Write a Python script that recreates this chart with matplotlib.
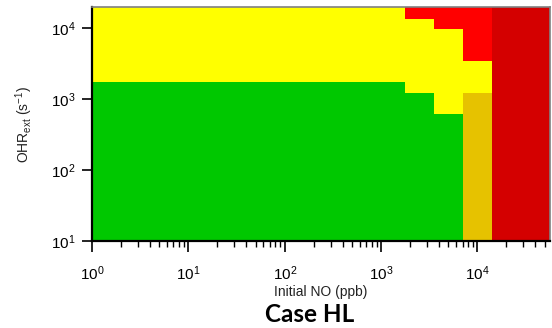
import numpy as np
import matplotlib
matplotlib.use("Agg")
import matplotlib.pyplot as plt
from matplotlib.colors import ListedColormap, BoundaryNorm
from matplotlib.ticker import LogLocator, NullFormatter

plt.rcParams['font.family'] = ['Liberation Sans', 'DejaVu Sans']
plt.rcParams['mathtext.fontset'] = 'custom'
plt.rcParams['mathtext.rm'] = 'Liberation Sans'
plt.rcParams['mathtext.it'] = 'Liberation Sans:italic'
plt.rcParams['mathtext.bf'] = 'Liberation Sans:bold'

# Regime map data (column edges in NO ppb, row edges in OHRext s^-1)
no_edges = [1, 1780, 3550, 7080, 14100, 56600]
ohr_edges = [10, 603, 1200, 1700, 3390, 9550, 13500, 19600]
# categories: 0 green, 1 yellow, 2 orange, 3 red, 4 dark red (rows bottom->top)
regime = [
    [0, 0, 0, 2, 4],
    [0, 0, 1, 2, 4],
    [0, 1, 1, 1, 4],
    [1, 1, 1, 1, 4],
    [1, 1, 1, 3, 4],
    [1, 1, 3, 3, 4],
    [1, 3, 3, 3, 4],
]
regime_colors = ['#00C800', '#FFFF00', '#E6C200', '#FF0000', '#D40000']

fig = plt.figure(figsize=(5.52, 3.28), dpi=100)
ax = fig.add_axes([92/552, 1-241/328, (550-92)/552, (241-7)/328])

cmap = ListedColormap(regime_colors)
norm = BoundaryNorm(np.arange(-0.5, 5.5, 1), cmap.N)
ax.pcolormesh(no_edges, ohr_edges, np.array(regime), cmap=cmap, norm=norm,
              shading='flat', antialiased=False)

ax.set_xscale('log')
ax.set_yscale('log')
ax.set_xlim(1, 56600)
ax.set_ylim(10, 19600)

ax.xaxis.set_major_locator(LogLocator(base=10, numticks=10))
ax.xaxis.set_minor_locator(LogLocator(base=10, subs=np.arange(2, 10), numticks=20))
ax.xaxis.set_minor_formatter(NullFormatter())
ax.yaxis.set_major_locator(LogLocator(base=10, numticks=10))
ax.yaxis.set_minor_locator(matplotlib.ticker.NullLocator())

ax.tick_params(axis='x', which='major', direction='out', length=8, width=1.2, pad=9,
               labelsize=11, colors='black')
ax.tick_params(axis='x', which='minor', direction='out', length=4, width=1.0)
ax.tick_params(axis='y', which='major', direction='out', length=7, width=1.2, pad=5,
               labelsize=11)
ax.tick_params(top=False, right=False)

for s in ['left', 'bottom']:
    ax.spines[s].set_linewidth(1.6)
    ax.spines[s].set_color('black')
for s in ['top', 'right']:
    ax.spines[s].set_linewidth(1.2)
    ax.spines[s].set_color('#808080')

ax.set_xlabel('Initial NO (ppb)', fontsize=10, color='#222222', labelpad=1)
ax.set_ylabel(r'OHR$_{\rm ext}$ (s$^{-1}$)', fontsize=10, color='#222222', labelpad=11)

fig.text(310/552, 1-321.5/328, 'Case HL', ha='center', va='baseline',
         fontsize=17.5, fontweight='bold', family=['Lato', 'DejaVu Sans'])

fig.savefig('out.png', dpi=100)
